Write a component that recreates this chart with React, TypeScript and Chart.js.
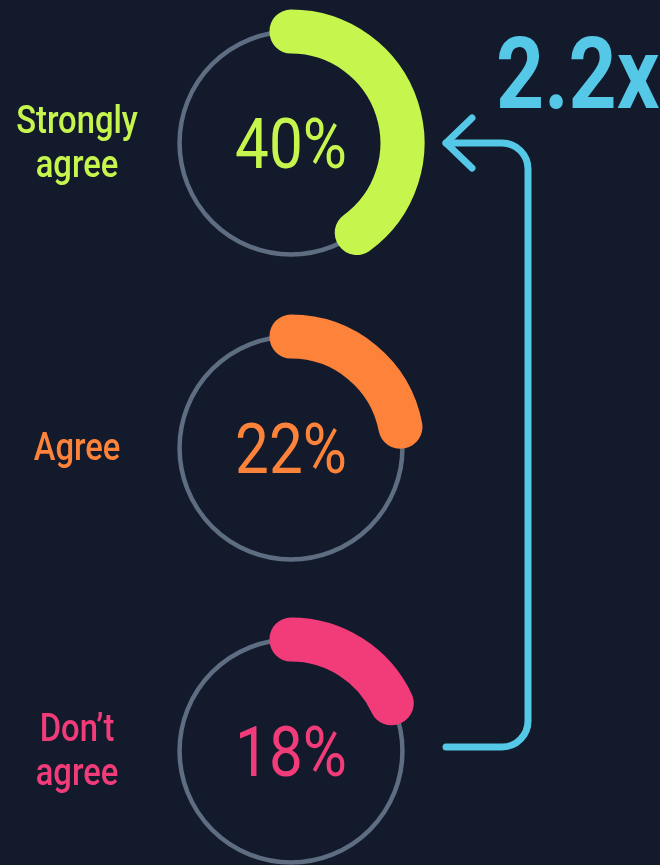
import React, { useEffect, useRef } from "react";
import { Chart, registerables } from "chart.js";

Chart.register(...registerables);

const categories = ["Strongly agree", "Agree", "Don’t agree"];
const labelLines = [["Strongly", "agree"], ["Agree"], ["Don’t", "agree"]];
const values = [40, 22, 18];

const COLORS = ["#c6f64e", "#fe833a", "#f23c7a"];
const BG = "#131a2c";
const RING = "#5e6d81";
const ACCENT = "#55c8e8";

const W = 660;
const H = 865;
const CX = 291;
const CENTERS_Y = [143, 448, 751];
const CANVAS_H = 300;

function drawScaled(
  ctx: CanvasRenderingContext2D,
  text: string,
  x: number,
  y: number,
  font: string,
  color: string,
  sx: number,
  align: CanvasTextAlign = "center"
) {
  ctx.save();
  ctx.font = font;
  ctx.fillStyle = color;
  ctx.textAlign = align;
  ctx.textBaseline = "alphabetic";
  ctx.translate(x, y);
  ctx.scale(sx, 1);
  ctx.fillText(text, 0, 0);
  ctx.restore();
}

function Gauge({ index }: { index: number }) {
  const ref = useRef<HTMLCanvasElement>(null);
  useEffect(() => {
    const canvas = ref.current!;
    const color = COLORS[index];
    const ringPlugin = {
      id: "ring",
      beforeDatasetsDraw(chart: any) {
        const arc = chart.getDatasetMeta(0).data[0];
        const ctx = chart.ctx;
        const r = (arc.innerRadius + arc.outerRadius) / 2;
        ctx.save();
        ctx.beginPath();
        ctx.arc(arc.x, arc.y, r, 0, Math.PI * 2);
        ctx.strokeStyle = RING;
        ctx.lineWidth = 4.5;
        ctx.stroke();
        ctx.restore();
      },
    };
    const textPlugin = {
      id: "texts",
      afterDraw(chart: any) {
        const arc = chart.getDatasetMeta(0).data[0];
        const ctx = chart.ctx;
        drawScaled(
          ctx,
          values[index] + "%",
          arc.x,
          arc.y + 25,
          "400 70px Roboto",
          color,
          0.86
        );
        const lines = labelLines[index];
        const lh = 44;
        lines.forEach((ln, k) => {
          const y = arc.y + (k - (lines.length - 1) / 2) * lh + 12;
          drawScaled(ctx, ln, 77, y, "500 39px Roboto", color, 0.84);
        });
      },
    };
    const chart = new Chart(canvas, {
      type: "doughnut",
      data: {
        labels: [categories[index], "rest"],
        datasets: [
          {
            data: [values[index], 100 - values[index]],
            backgroundColor: [color, "rgba(0,0,0,0)"],
            borderColor: [color, "rgba(0,0,0,0)"],
            borderWidth: [43, 0],
            hoverBorderWidth: [43, 0],
            borderAlign: "center",
            borderJoinStyle: "round",
            hoverOffset: 0,
            spacing: 0,
          } as any,
        ],
      },
      options: {
        animation: false,
        responsive: false,
        events: [],
        radius: 112,
        cutout: "99%",
        rotation: 0,
        circumference: 360,
        layout: { padding: { left: CX - 150, right: W - CX - 150, top: 0, bottom: 0 } },
        plugins: { legend: { display: false }, tooltip: { enabled: false } },
      } as any,
      plugins: [ringPlugin, textPlugin],
    });
    return () => chart.destroy();
  }, [index]);
  return (
    <canvas
      ref={ref}
      width={W}
      height={CANVAS_H}
      style={{ position: "absolute", left: 0, top: CENTERS_Y[index] - CANVAS_H / 2, width: W, height: CANVAS_H }}
    />
  );
}

function Overlay() {
  const ref = useRef<HTMLCanvasElement>(null);
  useEffect(() => {
    const ctx = ref.current!.getContext("2d")!;
    ctx.clearRect(0, 0, W, H);
    const topY = CENTERS_Y[0];
    const botY = CENTERS_Y[2] - 4;
    const vx = 528;
    const r = 26;
    ctx.save();
    ctx.strokeStyle = ACCENT;
    ctx.lineWidth = 7;
    ctx.lineCap = "round";
    ctx.lineJoin = "round";
    ctx.beginPath();
    ctx.moveTo(446, botY);
    ctx.lineTo(vx - r, botY);
    ctx.arcTo(vx, botY, vx, botY - r, r);
    ctx.lineTo(vx, topY + r);
    ctx.arcTo(vx, topY, vx - r, topY, r);
    ctx.lineTo(446, topY);
    ctx.stroke();
    ctx.beginPath();
    ctx.moveTo(472, topY - 25);
    ctx.lineTo(446, topY);
    ctx.lineTo(472, topY + 25);
    ctx.stroke();
    ctx.restore();

    const ratio = (values[0] / values[2]).toFixed(1) + "x";
    ctx.save();
    ctx.font = "700 100px Roboto";
    const m = ctx.measureText(ratio);
    const wText = m.actualBoundingBoxLeft + m.actualBoundingBoxRight;
    const sx = 161 / wText;
    ctx.restore();
    drawScaled(ctx, ratio, 496, 108, "700 100px Roboto", ACCENT, sx, "left");
  }, []);
  return (
    <canvas
      ref={ref}
      width={W}
      height={H}
      style={{ position: "absolute", left: 0, top: 0, width: W, height: H, pointerEvents: "none" }}
    />
  );
}

export default function App() {
  return (
    <div
      style={{
        position: "absolute",
        left: 0,
        top: 0,
        width: W,
        height: H,
        overflow: "hidden",
        background: BG,
      }}
    >
      {values.map((_, i) => (
        <Gauge key={i} index={i} />
      ))}
      <Overlay />
    </div>
  );
}
